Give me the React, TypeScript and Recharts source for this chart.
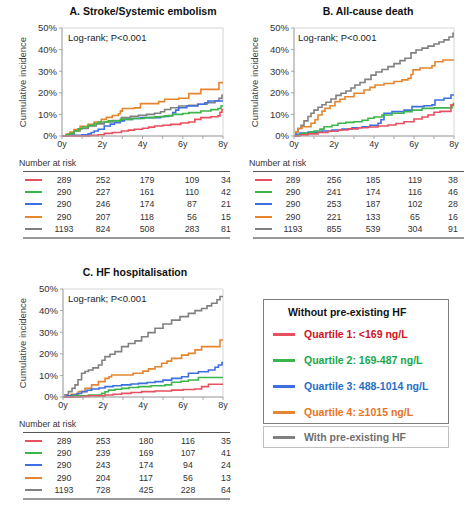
import { LineChart, Line, XAxis, YAxis, ReferenceArea } from 'recharts';

type Pt = [number, number];

const years = [0, 1, 2, 3, 4, 5, 6, 7, 8];
const pctTicks = [0, 10, 20, 30, 40, 50];

const groupNames = [
  'Quartile 1: <169 ng/L',
  'Quartile 2: 169-487 ng/L',
  'Quartile 3: 488-1014 ng/L',
  'Quartile 4: \u22651015 ng/L',
  'With pre-existing HF',
];

// A. Stroke/Systemic embolism
const strokeQ1: Pt[] = [[0, 0], [1.4, 0.3], [1.8, 0.6], [2.1, 1.2], [2.5, 1.6], [2.95, 2.3], [3.3, 2.7], [3.6, 3.1], [4.0, 3.6], [4.3, 4.1], [4.6, 4.6], [5.0, 5.0], [5.4, 5.4], [5.9, 6.0], [6.3, 6.5], [6.6, 7.7], [6.9, 8.5], [7.4, 8.9], [7.75, 9.3], [7.85, 11.0], [7.95, 12.3], [8, 12.3]];
const strokeQ2: Pt[] = [[0, 0], [0.2, 0.5], [0.4, 1.2], [0.6, 2.3], [0.8, 3.3], [1.0, 4.2], [1.3, 4.9], [1.6, 5.8], [1.8, 6.5], [2.3, 7.0], [2.9, 7.7], [3.5, 8.1], [4.1, 8.5], [4.6, 8.9], [5.1, 9.3], [5.5, 10.0], [6.0, 10.4], [6.3, 10.8], [6.9, 11.6], [7.4, 12.2], [7.75, 12.7], [7.9, 13.9], [8, 13.9]];
const strokeQ3: Pt[] = [[0, 0], [0.3, 0.3], [1.0, 0.5], [1.3, 1.0], [1.45, 1.6], [1.6, 2.3], [1.8, 3.1], [2.1, 4.6], [2.4, 5.5], [2.6, 6.2], [2.9, 7.0], [3.1, 7.7], [3.5, 8.1], [3.9, 8.5], [4.9, 9.0], [5.3, 9.5], [5.5, 10.8], [5.65, 12.0], [5.8, 13.1], [6.2, 13.9], [6.75, 14.7], [7.1, 15.4], [7.25, 16.2], [8, 16.2]];
const strokeQ4: Pt[] = [[0, 0], [0.2, 0.8], [0.4, 1.8], [0.6, 3.0], [0.9, 4.5], [1.3, 5.4], [1.6, 6.5], [1.95, 7.7], [2.2, 8.6], [2.5, 9.5], [2.8, 10.3], [2.9, 11.5], [3.0, 12.7], [3.6, 13.0], [3.9, 15.0], [4.8, 15.9], [5.1, 17.0], [5.8, 17.5], [6.3, 19.6], [6.9, 21.6], [7.8, 24.7], [8, 24.7]];
const strokeHF: Pt[] = [[0, 0], [0.3, 1.0], [0.6, 2.3], [0.9, 3.5], [1.3, 4.6], [1.7, 5.6], [2.1, 6.5], [2.5, 7.2], [2.95, 8.5], [3.4, 9.1], [3.8, 9.6], [4.2, 10.0], [4.6, 10.5], [4.9, 11.2], [5.1, 12.3], [5.4, 13.1], [5.8, 13.9], [6.3, 14.2], [6.75, 14.7], [7.2, 15.4], [7.6, 16.2], [7.8, 17.4], [7.95, 18.8], [8, 18.8]];

// B. All-cause death
const deathQ1: Pt[] = [[0, 0], [0.3, 0.5], [0.7, 1.0], [1.2, 1.6], [1.7, 2.2], [2.2, 2.8], [2.7, 3.3], [3.2, 3.8], [3.7, 4.2], [4.2, 4.6], [4.7, 5.1], [5.1, 5.8], [5.5, 6.6], [6.0, 7.9], [6.4, 8.8], [6.7, 9.7], [7.0, 11.0], [7.3, 11.4], [7.85, 14.4], [8, 14.4]];
const deathQ2: Pt[] = [[0, 0], [0.2, 0.7], [0.4, 1.2], [0.8, 1.8], [1.0, 2.3], [1.3, 3.2], [1.5, 4.3], [1.9, 5.0], [2.2, 5.9], [2.6, 6.3], [3.0, 6.6], [3.4, 7.3], [3.7, 8.2], [4.0, 8.8], [4.4, 9.7], [4.9, 10.5], [5.5, 11.3], [5.9, 12.0], [6.4, 12.8], [7.0, 13.0], [7.9, 14.2], [7.97, 15.1], [8, 15.1]];
const deathQ3: Pt[] = [[0, 0], [0.1, 0.8], [0.3, 1.4], [0.7, 1.8], [1.4, 2.3], [1.9, 2.8], [2.4, 3.2], [2.9, 3.8], [3.4, 4.3], [3.8, 5.0], [4.2, 5.9], [4.35, 7.5], [4.5, 10.5], [4.9, 11.3], [5.5, 12.0], [5.9, 13.6], [6.5, 14.0], [6.9, 14.4], [7.05, 16.7], [7.5, 17.5], [7.85, 19.0], [8, 19.0]];
const deathQ4: Pt[] = [[0, 0], [0.1, 2.0], [0.2, 3.5], [0.4, 4.3], [0.85, 5.9], [1.05, 7.5], [1.2, 9.7], [1.4, 11.5], [1.55, 12.8], [1.8, 14.0], [2.05, 15.9], [2.3, 17.0], [2.55, 18.2], [3.0, 19.8], [3.5, 21.3], [3.8, 22.5], [4.05, 23.6], [4.5, 24.3], [5.0, 25.2], [5.4, 26.0], [5.7, 26.7], [5.85, 28.5], [5.95, 30.6], [6.3, 31.5], [6.9, 32.5], [7.05, 34.4], [7.45, 35.2], [8, 35.2]];
const deathHF: Pt[] = [[0, 0], [0.1, 2.0], [0.2, 3.5], [0.35, 5.0], [0.5, 7.0], [0.7, 9.0], [0.85, 10.5], [1.0, 12.0], [1.2, 13.3], [1.4, 14.5], [1.6, 15.6], [1.85, 17.1], [2.1, 18.8], [2.35, 19.8], [2.6, 20.8], [2.85, 22.2], [3.05, 23.6], [3.3, 24.8], [3.55, 26.2], [3.85, 28.2], [4.1, 29.6], [4.4, 30.8], [4.7, 32.1], [5.0, 33.5], [5.3, 34.9], [5.55, 36.0], [5.85, 38.5], [6.1, 39.8], [6.4, 40.7], [6.7, 41.6], [7.0, 42.6], [7.25, 43.5], [7.5, 44.5], [7.75, 45.8], [7.95, 47.5], [8, 47.5]];

// C. HF hospitalisation
const hospQ1: Pt[] = [[0, 0], [1.0, 0.3], [1.3, 0.5], [2.1, 0.9], [2.5, 1.3], [2.93, 1.7], [3.4, 2.1], [3.93, 2.5], [4.6, 2.8], [5.43, 3.2], [6.0, 3.5], [6.6, 3.7], [6.93, 4.8], [7.27, 5.9], [8, 5.9]];
const hospQ2: Pt[] = [[0, 0], [0.5, 0.5], [1.27, 0.9], [1.93, 1.7], [2.1, 2.4], [2.27, 3.2], [2.6, 3.6], [2.93, 4.0], [3.3, 4.4], [3.77, 4.8], [4.4, 5.2], [5.1, 5.6], [5.43, 6.8], [5.9, 7.3], [6.27, 7.9], [6.77, 9.0], [8, 9.0]];
const hospQ3: Pt[] = [[0, 0], [0.2, 0.5], [0.45, 0.9], [0.7, 1.6], [0.93, 2.5], [1.2, 3.1], [1.43, 3.7], [1.8, 4.2], [2.1, 4.8], [2.5, 5.2], [2.93, 5.6], [3.4, 6.0], [3.77, 6.3], [4.2, 6.7], [4.6, 7.1], [5.0, 7.8], [5.43, 8.6], [5.93, 9.4], [6.27, 11.0], [6.77, 11.7], [7.27, 12.5], [7.6, 13.8], [7.77, 14.8], [7.95, 16.0], [8, 16.0]];
const hospQ4: Pt[] = [[0, 0], [0.2, 0.6], [0.4, 1.2], [0.77, 2.5], [1.1, 4.0], [1.43, 5.6], [1.77, 7.1], [2.1, 8.6], [2.3, 9.4], [2.43, 10.2], [3.5, 11.0], [4.0, 12.0], [4.27, 13.0], [4.6, 14.0], [4.93, 15.6], [5.2, 16.6], [5.43, 17.9], [5.93, 19.4], [6.27, 20.2], [6.6, 21.8], [6.93, 23.3], [7.85, 26.4], [8, 26.4]];
const hospHF: Pt[] = [[0, 0], [0.1, 1.0], [0.27, 2.5], [0.45, 4.0], [0.6, 5.6], [0.75, 8.0], [0.93, 11.0], [1.1, 11.8], [1.27, 12.5], [1.5, 13.5], [1.77, 14.8], [1.95, 17.0], [2.1, 18.7], [2.35, 19.8], [2.6, 21.0], [2.93, 23.3], [3.27, 24.8], [3.6, 26.0], [3.93, 27.9], [4.25, 29.8], [4.6, 31.8], [5.0, 33.8], [5.43, 35.6], [5.85, 37.2], [6.27, 38.7], [6.6, 40.0], [6.93, 41.0], [7.2, 42.2], [7.43, 43.4], [7.7, 45.0], [7.85, 46.5], [8, 46.5]];

// numbers at risk at 0y, 2y, 4y, 6y, 8y
const strokeRisk = [[289, 252, 179, 109, 34], [290, 227, 161, 110, 42], [290, 246, 174, 87, 21], [290, 207, 118, 56, 15], [1193, 824, 508, 283, 81]];
const deathRisk = [[289, 256, 185, 119, 38], [290, 241, 174, 116, 46], [290, 253, 187, 102, 28], [290, 221, 133, 65, 16], [1193, 855, 539, 304, 91]];
const hospRisk = [[289, 253, 180, 116, 35], [290, 239, 169, 107, 41], [290, 243, 174, 94, 24], [290, 204, 117, 56, 13], [1193, 728, 425, 228, 64]];

const lineColors = ['#e8505f', '#3cb54a', '#3d6fe3', '#e5852f', '#808080'];
const textColors = ['#d2121f', '#15a84a', '#1f6fc8', '#e8731c', '#6e6e6e'];
const font = '"Liberation Sans", Arial, sans-serif';

const Panel = (p: any) => {
  const { left, top, title, titleX, curves, risk, yw, rm, ylabX, logX, cols, tl, tr, sx } = p;
  const order = [4, 3, 2, 1, 0];
  return (
    <div style={{ position: 'absolute', left, top, width: 236, height: 250 }}>
      <div style={{ position: 'absolute', left: titleX - 100, width: 200, top: 5, textAlign: 'center', fontWeight: 'bold', fontSize: 10.5, color: '#111' }}>{title}</div>
      <LineChart width={236} height={156} margin={{ top: 28, right: rm, left: 0, bottom: 0 }}>
        <ReferenceArea x1={0} x2={8} y1={0} y2={50} fill="none" stroke="#d6d6d6" strokeWidth={1} />
        <XAxis type="number" dataKey="t" domain={[0, 8]} ticks={years} interval={0}
          tickFormatter={(v: number) => (v % 2 === 0 ? `${v}y` : '')}
          height={20} tickSize={3} stroke="#a6a6a6" tick={{ fontSize: 9, fill: '#333', fontFamily: font }} />
        <YAxis type="number" domain={[0, 50]} ticks={pctTicks} interval={0}
          tickFormatter={(v: number) => `${v}%`}
          width={yw} tickSize={3} stroke="#a6a6a6" tick={{ fontSize: 9.5, fill: '#333', fontFamily: font }} />
        {order.map((i) => (
          <Line key={i} data={curves[i].map(([t, v]: Pt) => ({ t, v }))} dataKey="v" type="stepAfter"
            stroke={lineColors[i]} strokeWidth={1.6} dot={false} isAnimationActive={false} />
        ))}
      </LineChart>
      <div style={{ position: 'absolute', left: ylabX, top: 82, transform: 'translate(-50%,-50%) rotate(-90deg)', whiteSpace: 'nowrap', fontSize: 9.5, color: '#404040' }}>Cumulative incidence</div>
      <div style={{ position: 'absolute', left: logX, top: 32, fontSize: 9.5, color: '#222', whiteSpace: 'nowrap' }}>Log-rank; P&lt;0.001</div>
      <div style={{ position: 'absolute', left: tl - 4, top: 158, fontSize: 8.8, color: '#333', whiteSpace: 'nowrap' }}>Number at risk</div>
      <div style={{ position: 'absolute', left: tl, width: tr - tl, top: 171, height: 1, background: '#555' }} />
      <div style={{ position: 'absolute', left: tl, width: tr - tl, top: 237, height: 2, background: '#999' }} />
      {risk.map((row: number[], i: number) => (
        <div key={i}>
          <div style={{ position: 'absolute', left: sx, width: 17, top: 180 + i * 12.2 - 1, height: 2, background: lineColors[i] }} />
          {row.map((n, j) => (
            <div key={j} style={{ position: 'absolute', left: cols[j] - 20, width: 40, top: 180 + i * 12.2 - 6, lineHeight: '12px', textAlign: 'center', fontSize: 8.8, color: '#333' }}>{n}</div>
          ))}
        </div>
      ))}
    </div>
  );
};

export default function App() {
  return (
    <div style={{ position: 'absolute', left: 0, top: 0, width: 472, height: 510, background: '#fff', fontFamily: font, overflow: 'hidden' }}>
      <Panel left={0} top={0} title="A. Stroke/Systemic embolism" titleX={143}
        curves={[strokeQ1, strokeQ2, strokeQ3, strokeQ4, strokeHF]} risk={strokeRisk}
        yw={62} rm={13} ylabX={22} logX={68} cols={[64, 103, 147, 192, 226]} tl={23} tr={230} sx={25} />
      <Panel left={236} top={0} title="B. All-cause death" titleX={132}
        curves={[deathQ1, deathQ2, deathQ3, deathQ4, deathHF]} risk={deathRisk}
        yw={58} rm={18} ylabX={18} logX={62} cols={[57, 98, 137, 179, 217]} tl={17} tr={228} sx={19} />
      <Panel left={0} top={261} title="C. HF hospitalisation" titleX={135}
        curves={[hospQ1, hospQ2, hospQ3, hospQ4, hospHF]} risk={hospRisk}
        yw={63} rm={13} ylabX={22} logX={68} cols={[64, 103, 146, 188, 226]} tl={23} tr={230} sx={25} />
      <div style={{ position: 'absolute', left: 263, top: 299, width: 186, height: 125, border: '1.5px solid #7f7f7f', boxSizing: 'border-box' }}>
        <div style={{ position: 'absolute', left: 24, top: 6, fontWeight: 'bold', fontSize: 10.5, color: '#111', whiteSpace: 'nowrap' }}>Without pre-existing HF</div>
      </div>
      <div style={{ position: 'absolute', left: 263, top: 426, width: 186, height: 22, border: '1px solid #c0c0c0', boxSizing: 'border-box' }} />
      {groupNames.map((name, i) => {
        const y = [334, 360, 386, 412, 437][i];
        return (
          <div key={i}>
            <div style={{ position: 'absolute', left: 273, width: 22, top: y - 1.5, height: 3, background: lineColors[i] }} />
            <div style={{ position: 'absolute', left: 304, top: y - 7, lineHeight: '14px', fontSize: 10.5, fontWeight: 'bold', color: textColors[i], whiteSpace: 'nowrap' }}>{name}</div>
          </div>
        );
      })}
    </div>
  );
}
